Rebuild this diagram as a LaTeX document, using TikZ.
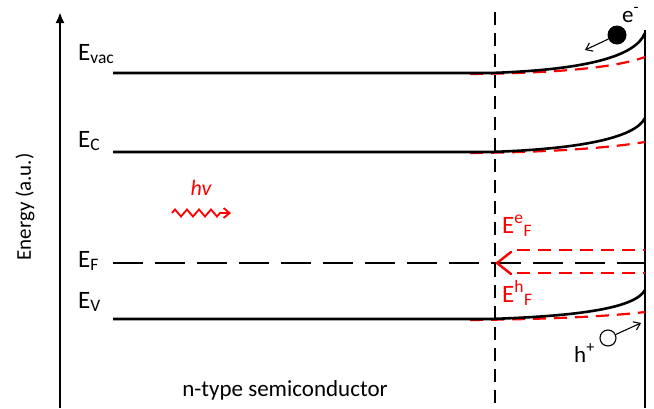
\documentclass[tikz,border=0pt]{standalone}
\usepackage{fontspec}
\setmainfont{Carlito}
\usetikzlibrary{arrows.meta, decorations.pathmorphing, positioning}

\begin{document}
\begin{tikzpicture}[x=1pt, y=-1pt,
band/.style={black, line width=2.6pt},
bentband/.style={red, line width=2.2pt, dash pattern=on 13pt off 8pt},
level/.style={font=\fontsize{25}{28}\selectfont, anchor=base west, inner sep=0pt},
redlevel/.style={level, text=red},
carrier/.style={font=\fontsize{23}{26}\selectfont, anchor=base west, inner sep=0pt},
move/.style={line width=1.1pt, -{Straight Barb[length=6pt,width=9pt]}},
]
\useasboundingbox (0,0) rectangle (654,408);

%Coordinates
\coordinate (vac_left) at (113,73);
\coordinate (vac_bend) at (490,73);
\coordinate (vac_top)  at (645,33);
\coordinate (vac_red)  at (645,57);
\coordinate (c_left)   at (113,152);
\coordinate (c_bend)   at (490,152);
\coordinate (c_top)    at (645,118);
\coordinate (c_red)    at (645,142);
\coordinate (f_left)   at (113,263);
\coordinate (f_right)  at (645,263);
\coordinate (v_left)   at (113,319);
\coordinate (v_bend)   at (490,319);
\coordinate (v_top)    at (645,290);
\coordinate (v_red)    at (645,312);

%Nodes
\node[level]    (vac_label) at (78,60)  {E\textsubscript{vac}};
\node[level]    (c_label)   at (78,147) {E\textsubscript{C}};
\node[level]    (f_label)   at (78,267) {E\textsubscript{F}};
\node[level]    (v_label)   at (78,308) {E\textsubscript{V}};
\node[redlevel] (fe_label)  at (502,233) {E\textsuperscript{e}\textsubscript{F}};
\node[redlevel] (fh_label)  at (502,302) {E\textsuperscript{h}\textsubscript{F}};
\node[font=\fontsize{21}{24}\selectfont, rotate=90, inner sep=0pt] (energy_label) at (25,207) {Energy (a.u.)};
\node[font=\fontsize{23}{26}\selectfont, inner sep=0pt] (ntype_label) at (285,390) {n-type semiconductor};
\node[font=\fontsize{22}{24}\selectfont\itshape, text=red, anchor=base, inner sep=0pt] (hv_label) at (201,195) {hv};

%Carriers
\node[circle, fill=black, minimum size=19pt, inner sep=0pt] (electron) at (617,35) {};
\node[carrier] (e_label) at (622,22) {e\textsuperscript{-}};
\node[circle, draw=black, line width=1.1pt, fill=white, minimum size=16pt, inner sep=0pt] (hole) at (608,338) {};
\node[carrier] (h_label) at (574,362) {h\textsuperscript{+}};
\coordinate (e_end) at (585,50);
\coordinate (h_end) at (641,323);

%Axes and walls
\draw[line width=2.6pt, -{Latex[length=11pt,width=9pt]}] (60,408) -- (60,12);
\draw[band, dash pattern=on 13pt off 8pt] (495,12) -- (495,408);
\draw[band] (645,30) -- (645,408);

%Bands
\draw[bentband] (470,74) .. controls (570,73) and (620,66) .. (vac_red);
\draw[band] (vac_left) -- (vac_bend) .. controls (580,70) and (635,58) .. (vac_top);
\draw[bentband] (470,153) .. controls (570,152) and (620,146) .. (c_red);
\draw[band] (c_left) -- (c_bend) .. controls (580,149) and (635,138) .. (c_top);
\draw[bentband] (517,250) -- (645,250);
\draw[bentband] (517,273) -- (645,273);
\draw[band, dash pattern=on 30pt off 12pt] (f_left) -- (f_right);
\draw[bentband] (470,320) .. controls (570,319) and (620,315) .. (v_red);
\draw[band] (v_left) -- (v_bend) .. controls (580,316) and (635,308) .. (v_top);
\draw[red, line width=2.4pt, line cap=round, line join=miter] (511,252) -- (497,263) -- (511,274);

%Arrows
\draw[move] (electron) -- (e_end);
\draw[move] (hole) -- (h_end);
\draw[red, line width=1.8pt, -{Straight Barb[length=6pt,width=10pt]}, decorate, decoration={zigzag, amplitude=3.5pt, segment length=12pt, post length=7pt}] (172,213) -- (231,213);

\end{tikzpicture}
\end{document}
